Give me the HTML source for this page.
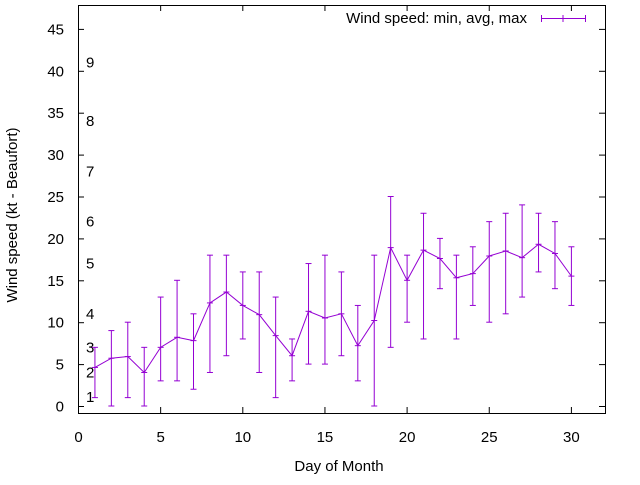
<!DOCTYPE html>
<html><head><meta charset="utf-8"><style>
body{margin:0;background:#fff}
svg text{font-family:"Liberation Sans",sans-serif;font-size:15px;fill:#000}
</style></head><body>
<svg id="chart" width="640" height="480" xmlns="http://www.w3.org/2000/svg">
<rect x="78.5" y="5.5" width="527" height="408" fill="none" stroke="#000"/>
<g id="axes"></g>
<g id="beaufort"></g>
<g id="series"></g>
<text x="11" y="209" transform="rotate(-90 17 209)" text-anchor="middle">Wind speed (kt - Beaufort)</text>
<text x="339" y="471" text-anchor="middle">Day of Month</text>
<text x="527" y="23" text-anchor="end">Wind speed: min, avg, max</text>
<g stroke="#9400d3">
<line x1="541" y1="18.5" x2="585" y2="18.5"/><line x1="541.5" y1="15" x2="541.5" y2="22"/><line x1="585.5" y1="15" x2="585.5" y2="22"/><line x1="563" y1="15" x2="563" y2="22"/></g>
</svg>
<script>
const days=[1,2,3,4,5,6,7,8,9,10,11,12,13,14,15,16,17,18,19,20,21,22,23,24,25,26,27,28,29,30];
const avgVals=[4.6,5.7,5.9,4.0,7.0,8.2,7.8,12.3,13.6,12.0,10.9,8.4,6.0,11.3,10.5,11.0,7.2,10.2,18.9,15.0,18.6,17.6,15.3,15.8,17.9,18.5,17.7,19.3,18.2,15.5];
const minVals=[1,0,1,0,3,3,2,4,6,8,4,1,3,5,5,6,3,0,7,10,8,14,8,12,10,11,13,16,14,12];
const maxVals=[7,9,10,7,13,15,11,18,18,16,16,13,8,17,18,16,12,18,25,18,23,20,18,19,22,23,24,23,22,19];
const xTicks=[0,5,10,15,20,25,30];
const yTicks=[0,5,10,15,20,25,30,35,40,45];
const beaufortLabels=["1","2","3","4","5","6","7","8","9"];
const beaufortKt=[1.1,4,7,11,17,22,28,34,41];
const X=v=>78.5+v*16.43, Y=v=>406-v*8.38;
const NS="http://www.w3.org/2000/svg";
function mk(tag,attrs,parent){const e=document.createElementNS(NS,tag);for(const k in attrs)e.setAttribute(k,attrs[k]);parent.appendChild(e);return e;}
const ax=document.getElementById('axes');
xTicks.forEach(t=>{const x=X(t);
mk('line',{x1:x,y1:413,x2:x,y2:407,stroke:'#000'},ax);mk('line',{x1:x,y1:5,x2:x,y2:11,stroke:'#000'},ax);
const tx=mk('text',{x:x,y:442,'text-anchor':'middle'},ax);tx.textContent=t;

});
yTicks.forEach(t=>{const y=Y(t)+0.5;
mk('line',{x1:78,y1:y,x2:84,y2:y,stroke:'#000'},ax);mk('line',{x1:605,y1:y,x2:599,y2:y,stroke:'#000'},ax);
const tx=mk('text',{x:64,y:y+5,'text-anchor':'end'},ax);tx.textContent=t;

});
const bf=document.getElementById('beaufort');
beaufortLabels.forEach((l,i)=>{const tx=mk('text',{x:86,y:Y(beaufortKt[i])+5},bf);tx.textContent=l;

});
const s=document.getElementById('series');
days.forEach((d,i)=>{const x=X(d);
const g=mk('g',{stroke:'#9400d3'},s);


mk('line',{x1:x,y1:Y(minVals[i]),x2:x,y2:Y(maxVals[i])},g);
mk('line',{x1:x-3,y1:Y(minVals[i]),x2:x+3,y2:Y(minVals[i])},g);
mk('line',{x1:x-3,y1:Y(maxVals[i]),x2:x+3,y2:Y(maxVals[i])},g);
mk('line',{x1:x-3,y1:Y(avgVals[i]),x2:x+3,y2:Y(avgVals[i])},g);});
const pl=mk('polyline',{fill:'none',stroke:'#9400d3',points:days.map((d,i)=>X(d)+','+Y(avgVals[i])).join(' ')},s);


</script>
</body></html>
